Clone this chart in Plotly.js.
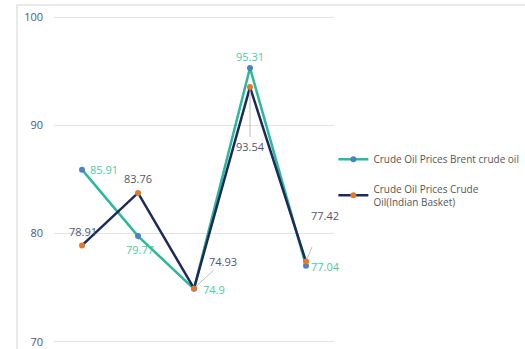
<!DOCTYPE html>
<html>
<head>
<meta charset="utf-8">
<script src="https://cdn.plot.ly/plotly-3.0.1.min.js"></script>
<style>
html,body{margin:0;padding:0;background:#fff;}
#wrap{position:relative;width:525px;height:349px;overflow:hidden;}
#chart{position:absolute;left:0;top:0;width:525px;height:349px;}
.frameTop{position:absolute;left:16px;top:4px;width:509px;height:2px;background:#e9e9e9;pointer-events:none;}
.frameLeft{position:absolute;left:16px;top:4px;width:2px;height:345px;background:#e9e9e9;pointer-events:none;}
</style>
</head>
<body>
<div id="wrap">
<div id="chart"></div>
<div class="frameTop"></div>
<div class="frameLeft"></div>
</div>
<script>
// Data
const categories = ["P1", "P2", "P3", "P4", "P5"];
const brentName = "Crude Oil Prices Brent crude oil";
const indianName = "Crude Oil Prices Crude<br>Oil(Indian Basket)";
const brentValues = [85.91, 79.77, 74.9, 95.31, 77.04];
const indianValues = [78.91, 83.76, 74.93, 93.54, 77.42];
const yTickValues = [70, 80, 90, 100];

// Label placement (pixel offsets, style only)
const brentLabelPos = [
  {dx: 22, dy: 0, arrow: false},
  {ax: 2, ay: 13, arrow: true, sso: 0},
  {dx: 20, dy: -1, arrow: false},
  {dx: 0, dy: 11, arrow: false},
  {dx: 19, dy: -1, arrow: false}
];
const indianLabelPos = [
  {dx: 1, dy: 14, arrow: false},
  {dx: 0, dy: 14, arrow: false},
  {ax: 29, ay: -27, arrow: true, sso: 0},
  {ax: 0, ay: 59, arrow: true, sso: 0},
  {ax: 19, ay: -46, arrow: true, sso: 24}
];

const teal = "#2bb89b", tealText = "#4ccaa9";
const navy = "#1c2a5a", navyText = "#4d5676";
const font = "Open Sans, Lato, sans-serif";

function makeAnn(vals, pos, color) {
  return vals.map((v, i) => {
    const p = pos[i];
    const a = {
      x: categories[i], y: v, xref: "x", yref: "y",
      text: String(v),
      font: {family: font, size: 11, color: color},
    };
    if (p.arrow) {
      Object.assign(a, {showarrow: true, ax: p.ax, ay: p.ay, arrowhead: 0,
        arrowwidth: 1, arrowcolor: "#bdbdbd", standoff: 3, startstandoff: p.sso});
    } else {
      Object.assign(a, {showarrow: false, xshift: p.dx, yshift: p.dy});
    }
    return a;
  });
}

const traces = [
  {
    x: categories, y: brentValues, name: brentName, type: "scatter", mode: "lines+markers",
    line: {color: teal, width: 2.5},
    marker: {color: "#4a82c4", size: 6, line: {width: 0}},
    legendgroup: "a", cliponaxis: false, hoverinfo: "skip"
  },
  {
    x: categories, y: indianValues, name: indianName, type: "scatter", mode: "lines+markers",
    line: {color: navy, width: 2.5},
    marker: {color: "#e07a2c", size: 6, line: {width: 0}},
    legendgroup: "b", cliponaxis: false, hoverinfo: "skip"
  }
];

const layout = {
  width: 525, height: 349,
  margin: {l: 54, r: 191, t: 15, b: 5, autoexpand: false},
  paper_bgcolor: "#fff", plot_bgcolor: "#fff",
  showlegend: true,
  legend: {
    xref: "container", yref: "container",
    x: 0.635, xanchor: "left", y: 0.585, yanchor: "top",
    font: {family: font, size: 10, color: "#555"},
    tracegroupgap: 12, traceorder: "grouped",
    bgcolor: "rgba(0,0,0,0)"
  },
  xaxis: {
    type: "category", range: [-0.5, 4.5],
    showgrid: false, showticklabels: false, zeroline: false, showline: false, ticks: ""
  },
  yaxis: {
    range: [69.8, 100.2], tickvals: yTickValues,
    showgrid: true, gridcolor: "#e2e2e2", gridwidth: 1,
    zeroline: false, showline: false, ticks: "",
    ticklabelstandoff: 10,
    tickfont: {family: font, size: 11, color: "#4b5781"}
  },
  annotations: makeAnn(brentValues, brentLabelPos, tealText)
    .concat(makeAnn(indianValues, indianLabelPos, navyText)),
  hovermode: false
};

Plotly.newPlot("chart", traces, layout, {displayModeBar: false, staticPlot: true});
</script>
</body>
</html>
